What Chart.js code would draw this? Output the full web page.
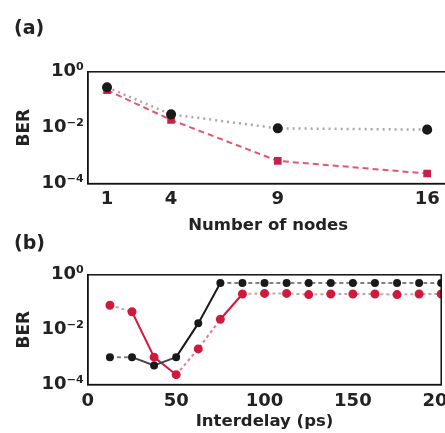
<!DOCTYPE html>
<html>
<head>
<meta charset="utf-8">
<script src="https://cdn.jsdelivr.net/npm/chart.js@4/dist/chart.umd.min.js"></script>
<style>
  html, body { margin: 0; padding: 0; background: #fff; width: 445px; height: 433px; overflow: hidden; position: relative; }
  .panel { position: absolute; left: 0; }
</style>
</head>
<body>
<div class="panel" style="top:0"><canvas id="chartA" width="455" height="236"></canvas></div>
<div class="panel" style="top:225px"><canvas id="chartB" width="466" height="208"></canvas></div>
<script>
// datos panel (a)
const nodos = [1, 4, 9, 16];
const berNegroA = [0.28, 0.03, 0.0095, 0.0085];
const berRojoA = [0.22, 0.019, 0.00065, 0.00023];
const ticksNodos = [1, 4, 9, 16];

// datos panel (b)
const retardos = [12.5, 25, 37.5, 50, 62.5, 75, 87.5, 100, 112.5, 125, 137.5, 150, 162.5, 175, 187.5, 200];
const berNegroB = [0.001, 0.001, 0.0005, 0.001, 0.017, 0.5, 0.5, 0.5, 0.5, 0.5, 0.5, 0.5, 0.5, 0.5, 0.5, 0.5];
const berRojoB = [0.078, 0.045, 0.001, 0.00023, 0.002, 0.024, 0.2, 0.21, 0.21, 0.19, 0.2, 0.2, 0.2, 0.19, 0.2, 0.2];
const ticksRetardo = [0, 50, 100, 150, 200];

const ticksBER = [1e-4, 1e-2, 1];
const etiquetasBER = { '-4': '10⁻⁴', '-2': '10⁻²', '0': '10⁰' };

const fuente = 'DejaVu Sans';
const tinta = '#222';

const aPuntos = (xs, ys) => xs.map((x, i) => ({ x: x, y: ys[i] }));

const ejeBER = () => ({
    type: 'logarithmic',
    min: 1e-4,
    max: 1,
    afterBuildTicks: eje => { eje.ticks = ticksBER.map(v => ({ value: v })); },
    ticks: {
        color: tinta,
        font: { family: fuente, size: 18, weight: 'bold' },
        padding: 4,
        callback: v => etiquetasBER[Math.round(Math.log10(v))]
    },
    grid: { display: false, drawTicks: false },
    border: { color: '#111', width: 1.5 },
    title: { display: true, text: 'BER', color: tinta, font: { family: fuente, size: 17, weight: 'bold' }, padding: { top: 0, bottom: 3 } }
});

const ejeX = (min, max, ticks, texto, pTicks, pTitulo) => ({
    type: 'linear',
    min: min,
    max: max,
    afterBuildTicks: eje => { eje.ticks = ticks.map(v => ({ value: v })); },
    ticks: { color: tinta, font: { family: fuente, size: 18, weight: 'bold' }, padding: pTicks, maxRotation: 0 },
    grid: { display: false, drawTicks: false },
    border: { color: '#111', width: 1.5 },
    title: { display: true, text: texto, color: tinta, font: { family: fuente, size: 16.5, weight: 'bold' }, padding: pTitulo }
});

const crearGrafico = (id, titulo, padTitulo, ejeHorizontal, datasets) => {
    const ctx = document.getElementById(id);
    if (!ctx) return;
    new Chart(ctx, {
        type: 'line',
        data: { datasets: datasets },
        options: {
            responsive: false,
            animation: false,
            layout: { padding: { left: 14, right: 0, top: 0, bottom: 0 } },
            plugins: {
                legend: { display: false },
                tooltip: { enabled: false },
                title: {
                    display: true, text: titulo, align: 'start', color: tinta,
                    font: { family: fuente, size: 19, weight: 'bold' },
                    padding: padTitulo
                }
            },
            scales: { x: ejeHorizontal, y: ejeBER() }
        },
        plugins: [{
            id: 'marco',
            afterDatasetsDraw(chart) {
                const a = chart.chartArea, c = chart.ctx;
                c.save();
                c.strokeStyle = '#111';
                c.lineWidth = 1.5;
                c.strokeRect(a.left, a.top, a.right - a.left, a.bottom - a.top);
                c.restore();
            }
        }]
    });
};

// Panel (a)
crearGrafico('chartA', '(a)', { top: 18, bottom: 31 },
    ejeX(0.1, 17, ticksNodos, 'Number of nodes', 5, { top: 1, bottom: 0 }), [
    {
        data: aPuntos(nodos, berNegroA),
        borderColor: '#a8a8a8', borderWidth: 2.5, borderDash: [2, 4],
        pointStyle: 'circle', pointRadius: 3.8, pointBackgroundColor: '#1a1a1a', pointBorderColor: '#1a1a1a'
    },
    {
        data: aPuntos(nodos, berRojoA),
        borderColor: '#e8546e', borderWidth: 2, borderDash: [6, 4],
        pointStyle: 'rect', pointRadius: 4, pointBackgroundColor: '#c8204a', pointBorderColor: '#c8204a'
    }
]);

// Panel (b)
const colorNegro = i => (i === 0 || i >= 5) ? '#808080' : (i <= 2 ? '#444' : '#1a1a1a');
const guionNegro = i => (i === 0 || i >= 5) ? [4, 3] : undefined;
const colorRojo = i => {
    if (i === 0 || i >= 6) return '#c8a0a8';
    if (i === 3 || i === 4) return '#e0788e';
    return '#d01a3c';
};
const guionRojo = i => (i === 0 || i >= 6 || i === 3 || i === 4) ? [3, 3] : undefined;

crearGrafico('chartB', '(b)', { top: 8, bottom: 19 },
    ejeX(0, 200, ticksRetardo, 'Interdelay (ps)', 6, { top: -6, bottom: 1 }), [
    {
        data: aPuntos(retardos, berNegroB),
        borderWidth: 2,
        segment: { borderColor: c => colorNegro(c.p0DataIndex), borderDash: c => guionNegro(c.p0DataIndex) },
        pointRadius: 3, pointBackgroundColor: '#1a1a1a', pointBorderColor: '#1a1a1a'
    },
    {
        data: aPuntos(retardos, berRojoB),
        borderWidth: 2,
        segment: { borderColor: c => colorRojo(c.p0DataIndex), borderDash: c => guionRojo(c.p0DataIndex) },
        pointRadius: 3.5, pointBackgroundColor: '#d01a3c', pointBorderColor: '#d01a3c'
    }
]);
</script>
</body>
</html>
